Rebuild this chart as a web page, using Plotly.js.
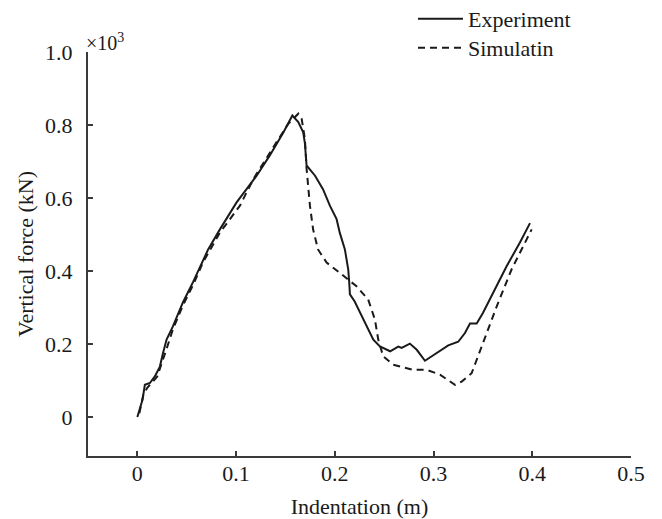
<!DOCTYPE html>
<html>
<head>
<meta charset="utf-8">
<script src="https://cdn.plot.ly/plotly-3.0.1.min.js"></script>
<style>html,body{margin:0;padding:0;background:#fff;}#chart{width:662px;height:519px;}</style>
</head>
<body>
<div id="chart"></div>
<script>
// Indentation (m) and vertical force (x10^3 kN)
const expX = [0, 0.0052, 0.0076, 0.0127, 0.0177, 0.0228, 0.026, 0.0296, 0.036, 0.046, 0.0565, 0.0667, 0.0717, 0.0836, 0.1005, 0.1106, 0.1208, 0.134, 0.148, 0.157, 0.163, 0.168, 0.1697, 0.1714, 0.180, 0.188, 0.195, 0.2018, 0.205, 0.2102, 0.2136, 0.2146, 0.2153, 0.220, 0.2288, 0.239, 0.2457, 0.256, 0.2643, 0.2677, 0.276, 0.283, 0.2913, 0.3031, 0.3149, 0.325, 0.3318, 0.3369, 0.3437, 0.350, 0.3605, 0.374, 0.3875, 0.3977];
const expY = [0, 0.047, 0.088, 0.093, 0.111, 0.138, 0.175, 0.212, 0.248, 0.313, 0.370, 0.432, 0.459, 0.514, 0.588, 0.624, 0.661, 0.716, 0.780, 0.826, 0.808, 0.780, 0.750, 0.689, 0.661, 0.624, 0.579, 0.542, 0.505, 0.459, 0.404, 0.368, 0.336, 0.317, 0.267, 0.212, 0.193, 0.180, 0.193, 0.189, 0.201, 0.184, 0.154, 0.175, 0.196, 0.206, 0.230, 0.256, 0.256, 0.285, 0.340, 0.413, 0.478, 0.531];
const simX = [0.002, 0.006, 0.010, 0.020, 0.030, 0.036, 0.046, 0.0565, 0.0667, 0.0836, 0.1039, 0.1175, 0.141, 0.1528, 0.163, 0.1664, 0.1697, 0.1714, 0.1748, 0.178, 0.183, 0.1917, 0.205, 0.222, 0.2338, 0.2406, 0.244, 0.249, 0.2592, 0.2794, 0.293, 0.3065, 0.3217, 0.3285, 0.3386, 0.350, 0.364, 0.379, 0.391, 0.3994];
const simY = [0.010, 0.060, 0.080, 0.110, 0.190, 0.240, 0.305, 0.362, 0.425, 0.505, 0.579, 0.652, 0.753, 0.803, 0.831, 0.817, 0.762, 0.680, 0.579, 0.514, 0.459, 0.423, 0.395, 0.358, 0.322, 0.267, 0.212, 0.166, 0.143, 0.129, 0.129, 0.116, 0.088, 0.097, 0.120, 0.203, 0.303, 0.404, 0.469, 0.514];
const seriesNames = ["Experiment", "Simulatin"];
const xTickVals = [0, 0.1, 0.2, 0.3, 0.4, 0.5];
const xTickText = ["0", "0.1", "0.2", "0.3", "0.4", "0.5"];
const yTickVals = [0, 0.2, 0.4, 0.6, 0.8, 1.0];
const yTickText = ["0", "0.2", "0.4", "0.6", "0.8", "1.0"];

const FONT = "Liberation Serif, Times New Roman, serif";
const axisCol = "#3a3a3a";
const txtCol = "#1a1a1a";

const traces = [
  {x: expX, y: expY, name: seriesNames[0], mode: "lines", legend: "legend",
   line: {color: "#1a1a1a", width: 2}},
  {x: simX, y: simY, name: seriesNames[1], mode: "lines", legend: "legend2",
   line: {color: "#1a1a1a", width: 2, dash: "7px,5px"}}
];

const legendBase = {xanchor: "left", yanchor: "middle", bgcolor: "rgba(0,0,0,0)", borderwidth: 0,
                    itemwidth: 45, font: {family: FONT, size: 22, color: txtCol}};

const layout = {
  width: 662, height: 519,
  margin: {l: 88, r: 31, t: 52, b: 63, autoexpand: false},
  paper_bgcolor: "#fff", plot_bgcolor: "#fff",
  font: {family: FONT, size: 22, color: txtCol},
  showlegend: true,
  legend: Object.assign({}, legendBase, {x: 0.5985, y: 1.0817}),
  legend2: Object.assign({}, legendBase, {x: 0.5985, y: 1.0099}),
  xaxis: {
    range: [-0.05, 0.5], showgrid: false, zeroline: false,
    showline: true, linecolor: axisCol, linewidth: 2,
    ticks: "inside", ticklen: 5, tickwidth: 2, tickcolor: axisCol,
    tickvals: xTickVals, ticktext: xTickText, ticklabelstandoff: -3,
    tickfont: {family: FONT, size: 22, color: txtCol},
    title: {text: "Indentation (m)", font: {family: FONT, size: 22, color: txtCol}, standoff: 16}
  },
  yaxis: {
    range: [-0.107, 1.0], showgrid: false, zeroline: false,
    showline: true, linecolor: axisCol, linewidth: 2,
    ticks: "inside", ticklen: 5, tickwidth: 2, tickcolor: axisCol,
    tickvals: yTickVals, ticktext: yTickText, ticklabelstandoff: 9,
    tickfont: {family: FONT, size: 22, color: txtCol},
    title: {text: "Vertical force (kN)", font: {family: FONT, size: 22, color: txtCol}, standoff: 5}
  },
  annotations: [{
    xref: "paper", yref: "paper", x: -0.008, y: 1.0248, xanchor: "left", yanchor: "middle",
    text: "×10<sup>3</sup>", showarrow: false, font: {family: FONT, size: 20, color: txtCol}
  }]
};

Plotly.newPlot("chart", traces, layout, {displayModeBar: false, staticPlot: true});
</script>
</body>
</html>
